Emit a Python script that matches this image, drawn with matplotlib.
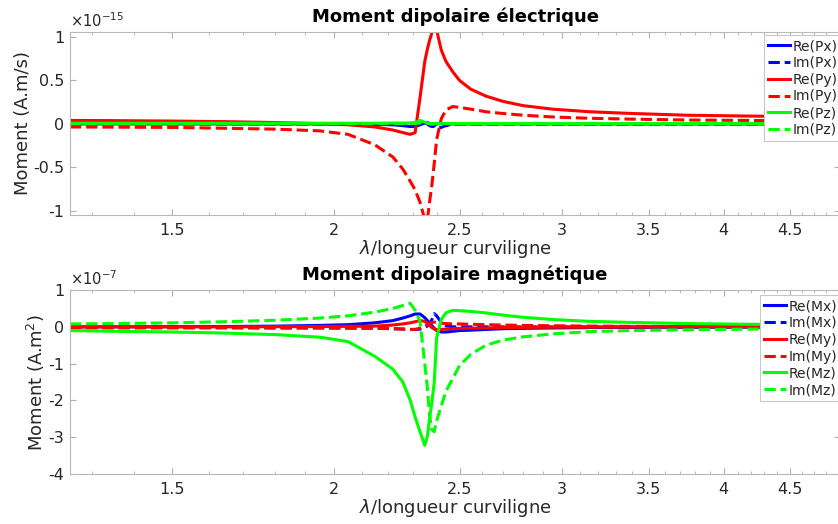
import numpy as np
import matplotlib.pyplot as plt
from matplotlib.ticker import FixedLocator, NullFormatter

plt.rcParams['font.family'] = 'DejaVu Sans'
plt.rcParams['axes.unicode_minus'] = False

# wavelength grid (lambda / curvilinear length), shared by all series
lam = [1.25, 1.35, 1.5, 1.65, 1.8, 1.95, 2.05, 2.15, 2.22, 2.26, 2.29, 2.31, 2.33,
       2.35, 2.36, 2.37, 2.38, 2.39, 2.40, 2.42, 2.44, 2.47, 2.50, 2.55, 2.62, 2.70,
       2.80, 2.95, 3.15, 3.40, 3.75, 4.2, 4.9]

# electric dipole, units of 1e-15 A.m/s
re_px = [0, 0, 0, 0, 0, 0, 0, -0.005, -0.01, -0.02, -0.03, -0.03, -0.01,
         0.01, 0.0, -0.02, -0.03, -0.02, 0.0, 0.005, 0.003, 0, 0, 0, 0, 0,
         0, 0, 0, 0, 0, 0, 0]
im_px = [0, 0, 0, 0, 0, 0, 0, 0, 0, 0, 0, 0, 0,
         -0.01, 0.02, 0.0, -0.02, -0.03, -0.05, -0.04, -0.02, 0, 0, 0, 0, 0,
         0, 0, 0, 0, 0, 0, 0]
re_py = [0.04, 0.038, 0.033, 0.026, 0.016, 0.003, -0.01, -0.035, -0.07, -0.1, -0.12, -0.1, 0.3,
         0.72, 0.85, 0.96, 1.05, 1.12, 1.08, 0.85, 0.72, 0.6, 0.5, 0.4, 0.32, 0.26,
         0.21, 0.17, 0.14, 0.12, 0.10, 0.09, 0.08]
im_py = [-0.035, -0.037, -0.04, -0.05, -0.06, -0.08, -0.12, -0.24, -0.38, -0.52, -0.66, -0.76, -0.9,
         -1.1, -1.12, -0.9, -0.7, -0.45, -0.18, 0.06, 0.16, 0.2, 0.19, 0.17, 0.14, 0.12,
         0.10, 0.08, 0.065, 0.055, 0.045, 0.04, 0.035]
re_pz = [0.008, 0.008, 0.008, 0.008, 0.008, 0.008, 0.008, 0.008, 0.01, 0.01, 0.012, 0.015, 0.04,
         0.02, 0.01, 0.01, 0.005, 0.005, 0.005, 0.005, 0.005, 0.005, 0.005, 0.005, 0.005, 0.005,
         0.005, 0.005, 0.005, 0.005, 0.005, 0.005, 0.005]
im_pz = [0.003, 0.003, 0.003, 0.003, 0.003, 0.003, 0.003, 0.003, 0.003, 0.003, 0.003, 0.005, 0.01,
         0.02, 0.01, 0.0, -0.005, 0.0, 0.003, 0.003, 0.003, 0.003, 0.003, 0.003, 0.003, 0.003,
         0.003, 0.003, 0.003, 0.003, 0.003, 0.003, 0.003]

# magnetic dipole, units of 1e-7 A.m^2
re_mx = [0.0, 0.0, 0.005, 0.01, 0.02, 0.04, 0.06, 0.11, 0.17, 0.24, 0.3, 0.35, 0.35,
         0.25, 0.18, 0.1, 0.03, -0.04, -0.1, -0.14, -0.14, -0.12, -0.1, -0.09, -0.07, -0.05,
         -0.04, -0.03, -0.02, -0.015, -0.01, -0.005, 0.0]
im_mx = [-0.01, -0.01, -0.01, -0.015, -0.02, -0.02, -0.025, -0.03, -0.05, -0.06, -0.07, -0.07, -0.06,
         -0.02, 0.02, 0.08, 0.2, 0.36, 0.3, 0.12, 0.03, 0.0, 0.0, 0.0, 0.0, 0.0,
         0.0, 0.0, 0.0, 0.0, 0.0, 0.0, 0.0]
re_my = [0.0, 0.0, 0.0, 0.0, 0.005, 0.01, 0.015, 0.02, 0.05, 0.08, 0.11, 0.14, 0.17,
         0.15, 0.1, 0.04, -0.02, -0.06, -0.08, -0.07, -0.06, -0.05, -0.04, -0.035, -0.03, -0.02,
         -0.015, -0.01, -0.01, -0.005, 0.0, 0.0, 0.0]
im_my = [-0.03, -0.03, -0.03, -0.03, -0.035, -0.035, -0.04, -0.04, -0.05, -0.06, -0.07, -0.07, -0.04,
         0.02, 0.06, 0.1, 0.12, 0.13, 0.12, 0.1, 0.09, 0.08, 0.08, 0.07, 0.06, 0.05,
         0.04, 0.03, 0.02, 0.015, 0.01, 0.005, 0.0]
re_mz = [-0.1, -0.12, -0.14, -0.17, -0.21, -0.28, -0.4, -0.8, -1.15, -1.5, -2.0, -2.45, -2.85,
         -3.22, -3.0, -2.5, -2.05, -1.5, -0.3, 0.2, 0.38, 0.45, 0.44, 0.42, 0.38, 0.32,
         0.26, 0.2, 0.15, 0.12, 0.09, 0.07, 0.06]
im_mz = [0.08, 0.09, 0.11, 0.14, 0.18, 0.24, 0.3, 0.4, 0.5, 0.58, 0.64, 0.45, 0.15,
         -1.0, -1.6, -2.4, -2.8, -2.85, -2.55, -2.15, -1.75, -1.4, -1.05, -0.75, -0.5, -0.36,
         -0.27, -0.19, -0.13, -0.1, -0.08, -0.06, -0.05]

major_ticks = [1.5, 2, 2.5, 3, 3.5, 4, 4.5]
minor_ticks = [v / 10 for v in range(13, 50) if v % 5 != 0]

fig = plt.figure(figsize=(8.38, 5.24), dpi=100)
ax1 = fig.add_axes([0.0835, 0.590, 0.919, 0.349])
ax2 = fig.add_axes([0.0835, 0.0954, 0.919, 0.351])

grey = '#262626'


def style(ax, ylim, yticks, ylabels, ylab, title, expo):
    ax.set_xscale('log')
    ax.set_xlim(1.25, 4.92)
    ax.set_ylim(*ylim)
    ax.xaxis.set_major_locator(FixedLocator(major_ticks))
    ax.xaxis.set_minor_locator(FixedLocator(minor_ticks))
    ax.xaxis.set_minor_formatter(NullFormatter())
    ax.set_xticklabels(['1.5', '2', '2.5', '3', '3.5', '4', '4.5'])
    ax.set_yticks(yticks)
    ax.set_yticklabels(ylabels)
    ax.tick_params(which='both', direction='in', top=True, right=True,
                   colors='#b0b0b0', labelcolor=grey, labelsize=11.5)
    ax.tick_params(axis='x', which='major', length=4, pad=6)
    ax.tick_params(axis='y', which='major', length=4, pad=4)
    ax.tick_params(which='minor', length=2.5)
    for s in ax.spines.values():
        s.set_color('#b8b8b8')
        s.set_linewidth(0.8)
    ax.set_xlabel(r'$\lambda$/longueur curviligne', fontsize=13, color=grey, labelpad=0)
    ax.set_ylabel(ylab, fontsize=13, color=grey, labelpad=1)
    ax.set_title(title, fontsize=13, fontweight='bold', pad=7)
    ax.text(0.0, 1.012, r'$\times10^{%d}$' % expo, transform=ax.transAxes,
            fontsize=10.5, color=grey, va='bottom', ha='left')


lw = 2.2
ax1.plot(lam, re_px, color='b', lw=lw, label='Re(Px)')
ax1.plot(lam, im_px, color='b', lw=lw, ls='--', label='Im(Px)')
ax1.plot(lam, re_py, color='r', lw=lw, label='Re(Py)')
ax1.plot(lam, im_py, color='r', lw=lw, ls='--', label='Im(Py)')
ax1.plot(lam, re_pz, color='#00ff00', lw=lw, label='Re(Pz)')
ax1.plot(lam, im_pz, color='#00ff00', lw=lw, ls='--', label='Im(Pz)')
style(ax1, (-1.046, 1.058), [-1, -0.5, 0, 0.5, 1], ['-1', '-0.5', '0', '0.5', '1'],
      'Moment (A.m/s)', 'Moment dipolaire électrique', -15)

ax2.plot(lam, re_mx, color='b', lw=lw, label='Re(Mx)')
ax2.plot(lam, im_mx, color='b', lw=lw, ls='--', label='Im(Mx)')
ax2.plot(lam, re_my, color='r', lw=lw, label='Re(My)')
ax2.plot(lam, im_my, color='r', lw=lw, ls='--', label='Im(My)')
ax2.plot(lam, re_mz, color='#00ff00', lw=lw, label='Re(Mz)')
ax2.plot(lam, im_mz, color='#00ff00', lw=lw, ls='--', label='Im(Mz)')
style(ax2, (-4, 1), [-4, -3, -2, -1, 0, 1], ['-4', '-3', '-2', '-1', '0', '1'],
      'Moment (A.m$^2$)', 'Moment dipolaire magnétique', -7)

for ax, anchor in ((ax1, (0.901, 0.984)), (ax2, (0.896, 0.973))):
    leg = ax.legend(loc='upper left', bbox_to_anchor=anchor, fontsize=10,
                    fancybox=False, framealpha=1, edgecolor='#c8c8c8',
                    handlelength=1.6, handletextpad=0.15, borderpad=0.3,
                    labelspacing=0.2, borderaxespad=0)
    leg.get_frame().set_linewidth(0.8)
    for t in leg.get_texts():
        t.set_color(grey)

fig.savefig('out.png', dpi=100)
